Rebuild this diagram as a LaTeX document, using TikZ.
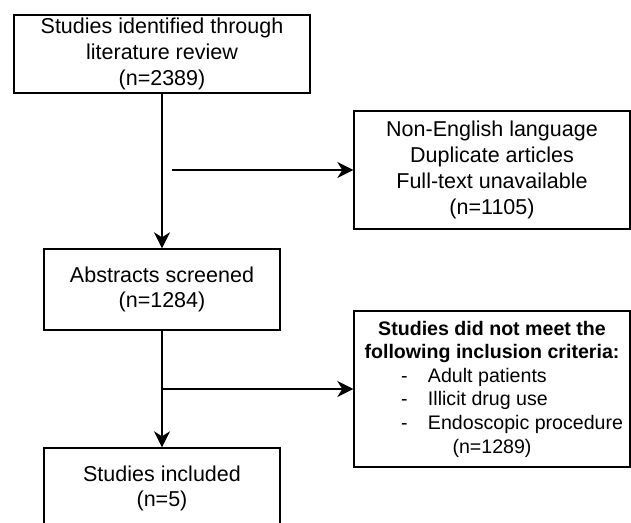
\documentclass[tikz,border=0pt]{standalone}
\usepackage{fontspec}
\setmainfont{Liberation Sans}
\usetikzlibrary{arrows.meta}
\begin{document}
\begin{tikzpicture}[x=1pt,y=-1pt,
  box/.style={draw, line width=1.4pt, rectangle, inner sep=0pt, align=center,
    font=\fontsize{21.5}{25.8}\selectfont},
  smallbox/.style={box, font=\fontsize{19.6}{23.6}\selectfont},
  arr/.style={line width=1.4pt, -{Stealth[length=16pt, width=16pt, inset=5pt]}}]
\clip (0,0) rectangle (631,522);
\fill[white] (0,0) rectangle (631,522);
\node[box, minimum width=296pt, minimum height=78pt] (b1) at (162,54)
  {Studies identified through\\literature review\\(n=2389)};
\node[box, minimum width=236pt, minimum height=81pt] (b2) at (162,289.5)
  {Abstracts screened\\(n=1284)};
\node[box, minimum width=276pt, minimum height=118pt] (b3) at (492,170)
  {Non-English language\\Duplicate articles\\Full-text unavailable\\(n=1105)};
\node[box, minimum width=236pt, minimum height=81pt] (b4) at (162,488.5)
  {Studies included\\(n=5)};
\node[smallbox, minimum width=276pt, minimum height=156pt] (b5) at (492,389)
  {\textbf{Studies did not meet the}\\\textbf{following inclusion criteria:}\\
   \makebox[260pt][l]{\hspace{39pt}\makebox[27pt][l]{-}Adult patients}\\
   \makebox[260pt][l]{\hspace{39pt}\makebox[27pt][l]{-}Illicit drug use}\\
   \makebox[260pt][l]{\hspace{39pt}\makebox[27pt][l]{-}Endoscopic procedure}\\
   (n=1289)};
\coordinate (s1) at (172,170);
\coordinate (s2) at (162,389);
\draw[arr] (b1) -- (b2);
\draw[arr] (b2) -- (b4);
\draw[arr] (s1) -- (s1 -| b3.west);
\draw[arr] (s2) -- (b5.west);
\end{tikzpicture}
\end{document}
